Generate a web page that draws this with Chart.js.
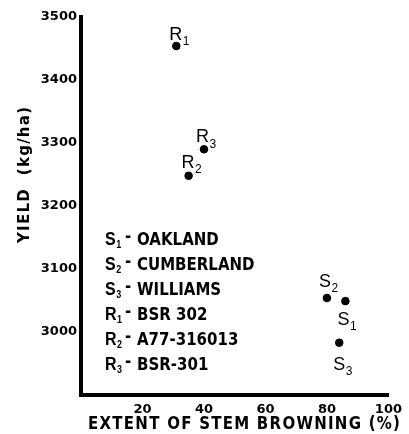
<!DOCTYPE html>
<html><head><meta charset="utf-8">
<script src="https://cdn.jsdelivr.net/npm/chart.js@4/dist/chart.umd.min.js"></script>
<style>html,body{margin:0;padding:0;background:#fff}#wrap{width:409px;height:434px;position:relative}</style>
</head><body><div id="wrap"><canvas id="c" width="409" height="434"></canvas></div>
<script>
// ---- data ----
const letters = ['S', 'S', 'S', 'R', 'R', 'R'];
const subs = ['1', '2', '3', '1', '2', '3'];
const cultivarNames = ['OAKLAND', 'CUMBERLAND', 'WILLIAMS', 'BSR 302', 'A77-316013', 'BSR-301'];
const stemBrowning = [86, 80, 84, 31, 35, 40];
const yieldKgHa = [3049, 3054, 2983, 3454, 3248, 3290];
const xTicks = [20, 40, 60, 80, 100];
const yTicks = [3000, 3100, 3200, 3300, 3400, 3500];
const xTitle = 'EXTENT OF STEM BROWNING (%)';
const yTitle = 'YIELD  (kg/ha)';

// ---- styles (label offsets relative to each point) ----
const labelDx = [-8, -8, -6, -7, -7, -8];
const labelDy = [24, -11, 27, -6, -8, -7];

function drawSub(ctx, main, sub, x, y, weight, size, subSize, drop, stretch) {
  ctx.save();
  ctx.translate(x, y);
  ctx.scale(1, stretch);
  ctx.fillStyle = '#000';
  ctx.textAlign = 'left';
  ctx.textBaseline = 'alphabetic';
  ctx.font = weight + ' ' + size + 'px "Liberation Sans", Arial, sans-serif';
  ctx.fillText(main, 0, 0);
  const w = ctx.measureText(main).width;
  ctx.font = weight + ' ' + subSize + 'px "Liberation Sans", Arial, sans-serif';
  ctx.fillText(sub, w + 0.5, drop);
  ctx.restore();
}

function fitText(ctx, text, cx, cy, target, rot, stretch) {
  ctx.save();
  ctx.translate(cx, cy);
  ctx.rotate(rot);
  ctx.scale(1, stretch);
  ctx.fillStyle = '#000';
  ctx.textAlign = 'center';
  ctx.textBaseline = 'middle';
  ctx.letterSpacing = '0px';
  const w = ctx.measureText(text).width;
  const sp = Math.max(0, (target - w) / (text.length - 1));
  ctx.letterSpacing = sp.toFixed(2) + 'px';
  ctx.fillText(text, sp / 2, 0);
  ctx.restore();
}

const decorPlugin = {
  id: 'decor',
  afterDatasetsDraw(chart) {
    const ctx = chart.ctx;
    const meta = chart.getDatasetMeta(0);
    meta.data.forEach((pt, i) => {
      drawSub(ctx, letters[i], subs[i], pt.x + labelDx[i], pt.y + labelDy[i], 'normal', 18, 12, 5, 1.05);
    });
  },
  afterDraw(chart) {
    const ctx = chart.ctx;
    // legend block
    const x0 = 105, b0 = 245, step = 25;
    cultivarNames.forEach((name, i) => {
      const by = b0 + i * step;
      drawSub(ctx, letters[i], subs[i], x0, by, 'bold', 16, 9, 3, 1.12);
      ctx.save();
      ctx.translate(0, by);
      ctx.scale(1, 1.12);
      ctx.font = 'bold 15px "DejaVu Sans", sans-serif';
      ctx.fillStyle = '#000';
      ctx.textAlign = 'left';
      ctx.textBaseline = 'alphabetic';
      ctx.fillText('-', 125, -3);
      ctx.fillText(name, 137, 0);
      ctx.restore();
    });
    // axis titles
    ctx.font = 'bold 15px "DejaVu Sans", sans-serif';
    fitText(ctx, xTitle, 244, 425, 312, 0, 1.12);
    ctx.font = 'bold 15px "DejaVu Sans", sans-serif';
    fitText(ctx, yTitle, 25, 175, 136, -Math.PI / 2, 1.1);
  }
};

const tickFont = { family: '"DejaVu Sans", sans-serif', weight: 'bold', size: 13 };

new Chart(document.getElementById('c'), {
  type: 'scatter',
  data: {
    datasets: [{
      data: stemBrowning.map((x, i) => ({ x: x, y: yieldKgHa[i] })),
      backgroundColor: '#000',
      borderColor: '#000',
      pointRadius: 3.8,
      pointHoverRadius: 3.8
    }]
  },
  options: {
    responsive: false,
    animation: false,
    devicePixelRatio: 1,
    events: [],
    layout: { padding: { top: 17, right: 16, bottom: 0, left: 0 } },
    plugins: { legend: { display: false }, tooltip: { enabled: false } },
    scales: {
      x: {
        type: 'linear', min: 0, max: 100,
        grid: { display: false, drawTicks: false },
        border: { display: true, color: '#000', width: 4 },
        ticks: { color: '#000', font: tickFont, padding: 7, autoSkip: false, maxRotation: 0, callback: v => String(v) },
        afterBuildTicks: s => { s.ticks = xTicks.map(v => ({ value: v })); },
        afterFit: s => { s.height = 39; }
      },
      y: {
        type: 'linear', min: 2900, max: 3500,
        grid: { display: false, drawTicks: false },
        border: { display: true, color: '#000', width: 4 },
        ticks: { color: '#000', font: tickFont, padding: 4, autoSkip: false, callback: v => String(v) },
        afterBuildTicks: s => { s.ticks = yTicks.map(v => ({ value: v })); },
        afterFit: s => { s.width = 81; }
      }
    }
  },
  plugins: [decorPlugin]
});
</script>
</body></html>
